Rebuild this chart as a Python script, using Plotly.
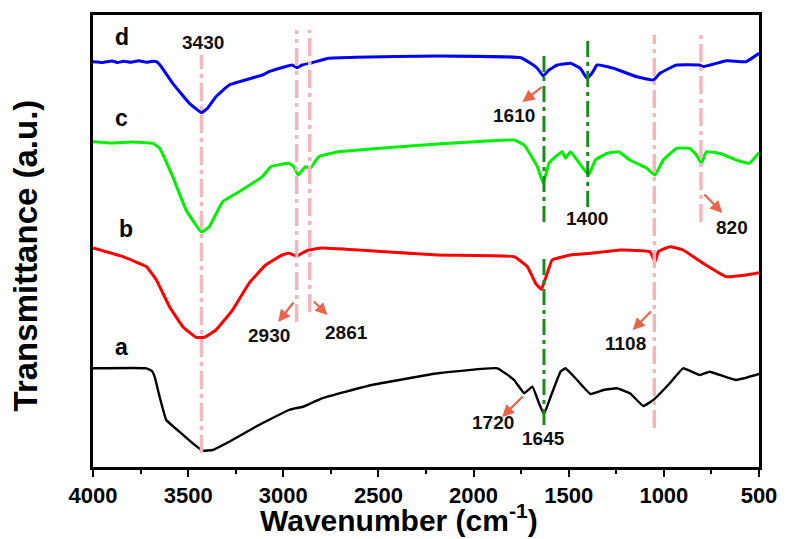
import plotly.graph_objects as go

# ---- data (wavenumber cm-1, transmittance a.u. offset) ----
wn_a = [4000, 3719, 3690, 3676, 3650, 3615, 3546, 3476, 3424, 3372, 3284, 3145, 2971, 2930, 2900, 2797, 2536, 2187,
        1874, 1787, 1734, 1691, 1656, 1630, 1595, 1543, 1517, 1456, 1386, 1316, 1247, 1178, 1108, 1055, 969,
        899, 812, 760, 620, 500]
t_a = [98.7, 98.7, 96, 90.3, 70.3, 47, 35.3, 23.7, 16.3, 17, 25.3, 40.3, 57, 59, 60, 68.7, 82, 93.7,
       98.7, 87, 73.7, 80.3, 63.7, 53, 70.3, 95.3, 98.7, 87, 73, 77, 78.7, 73.7, 61, 67, 83.7,
       98.7, 92, 95.3, 87, 93]

wn_b = [4000, 3843, 3719, 3667, 3598, 3528, 3458, 3415, 3354, 3267, 3180, 3093, 3006, 2971, 2928, 2900,
        2866, 2797, 2187, 1787, 1717, 1674, 1644, 1613, 1587, 1491, 1386, 1230, 1073, 1047, 1029, 969,
        899, 794, 672, 568, 500]
t_b = [219, 210.3, 200.3, 187, 160.3, 140.3, 129.7, 129.7, 137, 157, 183.7, 202, 212, 213.7, 211, 214,
       217, 219, 212, 210.3, 200.3, 183.7, 177.7, 193.7, 207, 212, 213.7, 217, 215.3, 205.3, 215.3, 220.3,
       217, 203.7, 190.3, 192, 194.3]

wn_c = [4000, 3900, 3800, 3685, 3650, 3581, 3511, 3430, 3389, 3319, 3232, 3110, 3066, 2971, 2945, 2922,
        2884, 2858, 2814, 2710, 2187, 1787, 1734, 1665, 1634, 1604, 1569, 1534, 1517, 1491, 1456, 1395,
        1360, 1299, 1238, 1178, 1090, 1047, 1003, 934, 864, 829, 803, 777, 707, 620, 551, 500]
t_c = [325.3, 324, 325, 323.7, 318.7, 290.3, 257, 235, 240.3, 265.3, 275.3, 290.3, 300.3, 303.7, 300.3, 292,
       300.3, 298.7, 310.3, 315.3, 323, 327, 322, 300.3, 283.7, 303.7, 310.3, 315.3, 308.7, 315.3, 307, 292,
       307, 313.7, 315.3, 307, 298.7, 292, 307, 318.7, 318.7, 312, 303.7, 315.3, 313.7, 307, 303.7, 314.3]

wn_d = [4000, 3950, 3900, 3870, 3840, 3800, 3760, 3720, 3690, 3667, 3641, 3581, 3493, 3430, 3398, 3354,
        3284, 3110, 3075, 2954, 2928, 2901, 2849, 2762, 2622, 2187, 1752, 1700, 1665, 1634, 1604, 1560,
        1491, 1439, 1404, 1378, 1351, 1264, 1143, 1055, 1021, 934, 812, 794, 672, 568, 500]
t_d = [405.3, 404.6, 406, 404.4, 405.8, 404.8, 406.3, 404.7, 405.6, 405.3, 400.3, 383.7, 363.7, 354.3, 358.7, 370.3,
       382, 392, 395.3, 402, 399.3, 402, 404.3, 408.7, 409.7, 411, 409.3, 403.7, 398.7, 391, 397, 402,
       403.7, 398.7, 388.7, 393.7, 402, 398.7, 390.3, 387, 393.7, 402, 402, 400.3, 406.3, 405.3, 413.7]

# reference marker lines: (wavenumber, y0, y1)
pink_lines = [(3430, 14, 412), (2930, 145, 437), (2861, 155, 437), (1050, 39, 432), (805, 245, 435)]
green_lines = [(1630, 245, 414), (1630, 42, 212), (1400, 260, 429)]

# labels
curve_labels = [("a", 3850, 120), ("b", 3824, 238), ("c", 3850, 349), ("d", 3850, 430)]
peak_labels = [("3430", 3424, 425), ("1610", 1790, 352), ("1400", 1404, 249), ("820", 641, 240),
               ("2930", 3075, 132), ("2861", 2666, 135), ("1108", 1204, 124), ("1720", 1900, 45),
               ("1645", 1630, 29)]
# arrows: (tail_wn, tail_t, head_wn, head_t)
arrows = [(1634, 381, 1743, 365), (794, 274, 693, 254), (2940, 166, 3027, 145),
          (2847, 167, 2768, 152), (1060, 157, 1164, 137), (1734, 72, 1850, 50)]

fig = go.Figure()
for wn, t, col, w in [(wn_a, t_a, "black", 2.4), (wn_b, t_b, "#FF0000", 3),
                      (wn_c, t_c, "#00F000", 3), (wn_d, t_d, "#0000FF", 3)]:
    fig.add_trace(go.Scatter(x=wn, y=t, mode="lines", line=dict(color=col, width=w, shape="spline", smoothing=0.3),
                             hoverinfo="skip", showlegend=False))

for x, y0, y1 in pink_lines:
    fig.add_shape(type="line", x0=x, x1=x, y0=y0, y1=y1, xref="x", yref="y",
                  line=dict(color="#F5B5BE", width=3.5, dash="18px,5px,4px,5px"))
for x, y0, y1 in green_lines:
    fig.add_shape(type="line", x0=x, x1=x, y0=y0, y1=y1, xref="x", yref="y",
                  line=dict(color="#1A8A1A", width=3, dash="16px,5px,4px,5px"))

font_fam = "Liberation Sans, Arial, sans-serif"
for txt, x, y in curve_labels:
    fig.add_annotation(x=x, y=y, text=f"<b>{txt}</b>", showarrow=False, xanchor="center", yanchor="middle",
                       font=dict(family=font_fam, size=23, color="black"))
for txt, x, y in peak_labels:
    fig.add_annotation(x=x, y=y, text=f"<b>{txt}</b>", showarrow=False, xanchor="center", yanchor="middle",
                       font=dict(family=font_fam, size=19, color="#111111"))
for tx, ty, hx, hy in arrows:
    fig.add_annotation(x=hx, y=hy, ax=tx, ay=ty, xref="x", yref="y", axref="x", ayref="y",
                       text="", showarrow=True, arrowhead=2, arrowsize=1.1, arrowwidth=2.2,
                       arrowcolor="#E8644A")

fig.add_annotation(x=0.46, y=-0.113, xref="paper", yref="paper", text="<b>Wavenumber (cm<sup>-1</sup>)</b>",
                   showarrow=False, xanchor="center", yanchor="middle",
                   font=dict(family=font_fam, size=30, color="black"))
fig.add_annotation(x=-0.1015, y=0.469, xref="paper", yref="paper", text="<b>Transmittance (a.u.)</b>",
                   showarrow=False, textangle=-90, xanchor="center", yanchor="middle",
                   font=dict(family=font_fam, size=33, color="black"))

fig.update_xaxes(range=[4000, 500], tickvals=[4000, 3500, 3000, 2500, 2000, 1500, 1000, 500],
                 ticks="outside", ticklen=7, tickwidth=2, tickcolor="black",
                 minor=dict(tickvals=[3750, 3250, 2750, 2250, 1750, 1250, 750], ticks="outside",
                            ticklen=4, tickwidth=2, tickcolor="black"),
                 showline=True, linewidth=2.5, linecolor="black", mirror=True, showgrid=False, zeroline=False,
                 ticklabelstandoff=0,
                 tickfont=dict(family=font_fam, size=22, color="black", weight="bold"))
fig.update_yaxes(range=[0, 452], showticklabels=False, ticks="", showline=True, linewidth=2.5,
                 linecolor="black", mirror=True, showgrid=False, zeroline=False)
fig.update_layout(width=789, height=539, margin=dict(l=93, r=26, t=15, b=72),
                  plot_bgcolor="white", paper_bgcolor="white")
fig.write_html("out.html", config={"displayModeBar": False},
               post_script="document.body.style.margin='0';document.body.style.overflow='hidden';")
